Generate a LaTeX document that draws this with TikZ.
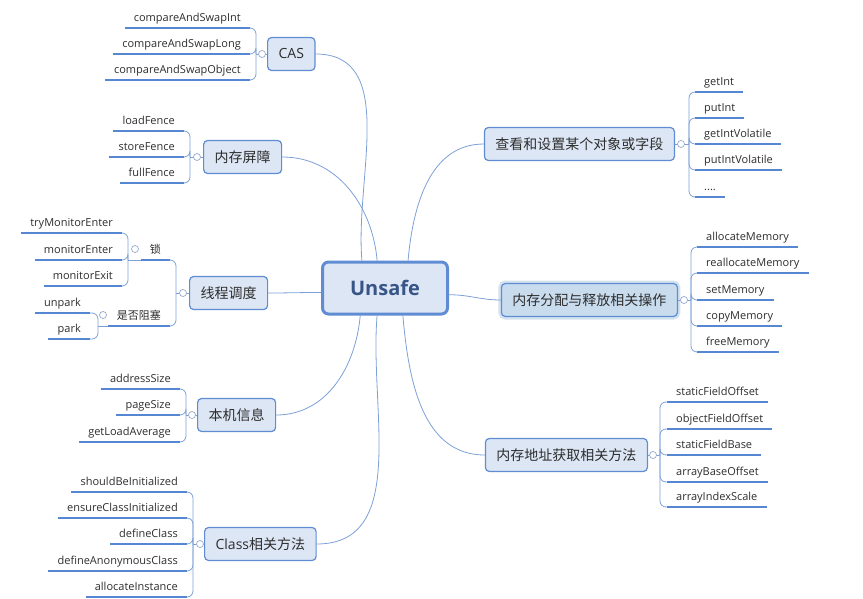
\documentclass[tikz,border=0pt]{standalone}
\usepackage{fontspec}
\setmainfont{Open Sans}
\newfontfamily\cjk{Noto Sans CJK SC}
\usetikzlibrary{positioning}
\definecolor{boxfill}{RGB}{220,230,244}
\definecolor{boxline}{RGB}{95,140,210}
\definecolor{selfill}{RGB}{200,220,238}
\definecolor{selglow}{RGB}{212,226,238}
\definecolor{linkblue}{RGB}{125,160,215}
\definecolor{ulineblue}{RGB}{85,135,210}
\definecolor{dotline}{RGB}{150,170,205}
\definecolor{textgray}{RGB}{45,45,45}
\definecolor{roottext}{RGB}{55,85,135}

\begin{document}
\begin{tikzpicture}[
  x=1pt, y=1pt,
  root/.style={draw=boxline, line width=3pt, fill=boxfill, rounded corners=6pt, minimum width=125pt, minimum height=52pt, font=\fontsize{20}{24}\selectfont\bfseries, text=roottext},
  topic/.style={draw=boxline, line width=1.2pt, fill=boxfill, rounded corners=4pt, minimum height=33pt, inner xsep=11pt, font=\fontsize{14}{16}\selectfont, text=textgray},
  uline/.style={draw=ulineblue, line width=2pt},
  leaf/.style={font=\fontsize{11}{13}\selectfont, text=textgray, inner xsep=9pt, inner ysep=4pt, text height=8pt, text depth=2.5pt,
    append after command={(\tikzlastnode.south west) edge[uline] (\tikzlastnode.south east)}},
  link/.style={draw=linkblue, line width=0.8pt},
  fork/.style={link, rounded corners=6pt},
  dot/.style={circle, draw=dotline, fill=white, line width=0.7pt, inner sep=0pt, minimum size=7pt}
]
  \useasboundingbox (0,0) rectangle (863,-599);

  % centre
  \node[root] (unsafe) at (385,-288) {Unsafe};

  % topics, left
  \node[topic, anchor=west] (cas) at (267,-54) {CAS};
  \node[topic, anchor=west] (fence) at (203,-157) {\cjk 内存屏障};
  \node[topic, anchor=west] (thread) at (189,-293) {\cjk 线程调度};
  \node[topic, anchor=west] (info) at (197,-415) {\cjk 本机信息};
  \node[topic, anchor=west] (cls) at (204,-544) {Class{\cjk 相关方法}};
  % topics, right
  \node[topic, anchor=east] (field) at (675,-144) {\cjk 查看和设置某个对象或字段};
  \node[topic, anchor=east, fill=selfill, preaction={draw=selglow, line width=6pt}] (mem) at (678,-300) {\cjk 内存分配与释放相关操作};
  \node[topic, anchor=east] (addr) at (648,-455) {\cjk 内存地址获取相关方法};

  \draw[link] (unsafe.130) to[out=95, in=0] (cas.east);
  \draw[link] (unsafe.106) to[out=95, in=0] (fence.east);
  \draw[link] (unsafe.184) to[out=180, in=0] (thread.east);
  \draw[link] (unsafe.228) to[out=-95, in=0] (info.east);
  \draw[link] (unsafe.254) to[out=-95, in=0] (cls.east);
  \draw[link] (unsafe.50) to[out=85, in=180] (field.west);
  \draw[link] (unsafe.354) to[out=0, in=180] (mem.west);
  \draw[link] (unsafe.303) to[out=-85, in=180] (addr.west);

  % leaves, left
  \node[leaf, anchor=south east] (cas1) at (250,-28) {compareAndSwapInt};
  \node[leaf, anchor=south east] (cas2) at (250,-54) {compareAndSwapLong};
  \node[leaf, anchor=south east] (cas3) at (250,-80) {compareAndSwapObject};

  \node[leaf, anchor=south east] (fence1) at (184,-131) {loadFence};
  \node[leaf, anchor=south east] (fence2) at (184,-157) {storeFence};
  \node[leaf, anchor=south east] (fence3) at (184,-183) {fullFence};

  \node[leaf, anchor=south east] (lock) at (170,-260) {\cjk 锁};
  \node[leaf, anchor=south east] (block) at (170,-326) {\cjk 是否阻塞};
  \node[leaf, anchor=south east] (lock1) at (122,-233) {tryMonitorEnter};
  \node[leaf, anchor=south east] (lock2) at (122,-260) {monitorEnter};
  \node[leaf, anchor=south east] (lock3) at (122,-286) {monitorExit};
  \node[leaf, anchor=south east] (park1) at (90,-313) {unpark};
  \node[leaf, anchor=south east] (park2) at (90,-339) {park};

  \node[leaf, anchor=south east] (info1) at (180,-389) {addressSize};
  \node[leaf, anchor=south east] (info2) at (180,-415) {pageSize};
  \node[leaf, anchor=south east] (info3) at (180,-442) {getLoadAverage};

  \node[leaf, anchor=south east] (cls1) at (187,-492) {shouldBeInitialized};
  \node[leaf, anchor=south east] (cls2) at (187,-518) {ensureClassInitialized};
  \node[leaf, anchor=south east] (cls3) at (187,-544) {defineClass};
  \node[leaf, anchor=south east] (cls4) at (187,-571) {defineAnonymousClass};
  \node[leaf, anchor=south east] (cls5) at (187,-597) {allocateInstance};

  % leaves, right
  \node[leaf, anchor=south west] (fld1) at (695,-92) {getInt};
  \node[leaf, anchor=south west] (fld2) at (695,-118) {putInt};
  \node[leaf, anchor=south west] (fld3) at (695,-144) {getIntVolatile};
  \node[leaf, anchor=south west] (fld4) at (695,-170) {putIntVolatile};
  \node[leaf, anchor=south west] (fld5) at (695,-197) {....};

  \node[leaf, anchor=south west] (mem1) at (697,-247) {allocateMemory};
  \node[leaf, anchor=south west] (mem2) at (697,-273) {reallocateMemory};
  \node[leaf, anchor=south west] (mem3) at (697,-300) {setMemory};
  \node[leaf, anchor=south west] (mem4) at (697,-326) {copyMemory};
  \node[leaf, anchor=south west] (mem5) at (697,-352) {freeMemory};

  \node[leaf, anchor=south west] (addr1) at (667,-402) {staticFieldOffset};
  \node[leaf, anchor=south west] (addr2) at (667,-429) {objectFieldOffset};
  \node[leaf, anchor=south west] (addr3) at (667,-455) {staticFieldBase};
  \node[leaf, anchor=south west] (addr4) at (667,-482) {arrayBaseOffset};
  \node[leaf, anchor=south west] (addr5) at (667,-507) {arrayIndexScale};

  % forks
  \coordinate (jcas) at (256,-54);
  \coordinate (jfence) at (190,-157);
  \coordinate (jthread) at (176,-293);
  \coordinate (jlock) at (128,-260);
  \coordinate (jblock) at (98,-326);
  \coordinate (jinfo) at (186,-415);
  \coordinate (jcls) at (193,-544);
  \coordinate (jfield) at (689,-144);
  \coordinate (jmem) at (691,-300);
  \coordinate (jaddr) at (660,-455);

  \draw[link] (cas.west) -- (jcas);
  \draw[link] (fence.west) -- (jfence);
  \draw[link] (thread.west) -- (jthread);
  \draw[link] (lock.south west) -- (jlock);
  \draw[link] (block.south west) -- (jblock);
  \draw[link] (info.west) -- (jinfo);
  \draw[link] (cls.west) -- (jcls);
  \draw[link] (field.east) -- (jfield);
  \draw[link] (mem.east) -- (jmem);
  \draw[link] (addr.east) -- (jaddr);

  \foreach \n in {cas1,cas2,cas3} \draw[fork] (jcas) |- (\n.south east);
  \foreach \n in {fence1,fence2,fence3} \draw[fork] (jfence) |- (\n.south east);
  \foreach \n in {lock,block} \draw[fork] (jthread) |- (\n.south east);
  \foreach \n in {lock1,lock2,lock3} \draw[fork] (jlock) |- (\n.south east);
  \foreach \n in {park1,park2} \draw[fork] (jblock) |- (\n.south east);
  \foreach \n in {info1,info2,info3} \draw[fork] (jinfo) |- (\n.south east);
  \foreach \n in {cls1,cls2,cls3,cls4,cls5} \draw[fork] (jcls) |- (\n.south east);
  \foreach \n in {fld1,fld2,fld3,fld4,fld5} \draw[fork] (jfield) |- (\n.south west);
  \foreach \n in {mem1,mem2,mem3,mem4,mem5} \draw[fork] (jmem) |- (\n.south west);
  \foreach \n in {addr1,addr2,addr3,addr4,addr5} \draw[fork] (jaddr) |- (\n.south west);

  % collapse marks
  \node[dot] (casdot) at (262,-54) {};
  \node[dot] (fencedot) at (197,-157) {};
  \node[dot] (threaddot) at (183,-293) {};
  \node[dot] (lockdot) at (135,-249) {};
  \node[dot] (blockdot) at (103,-315) {};
  \node[dot] (infodot) at (192,-415) {};
  \node[dot] (clsdot) at (200,-544) {};
  \node[dot] (fielddot) at (681,-144) {};
  \node[dot] (memdot) at (684,-300) {};
  \node[dot] (addrdot) at (653,-455) {};
\end{tikzpicture}
\end{document}
